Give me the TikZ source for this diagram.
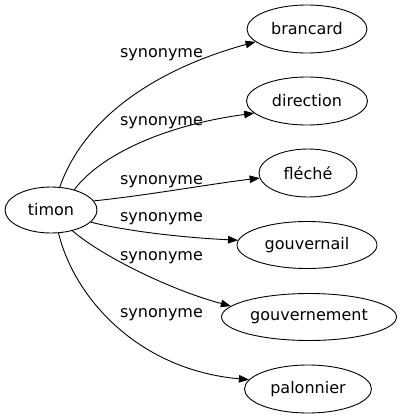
\documentclass[tikz,border=0pt]{standalone}
\usepackage{fontspec}
\setmainfont{DejaVu Sans}
\usetikzlibrary{shapes.geometric,arrows.meta}
\begin{document}
\begin{tikzpicture}[x=1bp,y=-1bp,
  every node/.style={font=\fontsize{16bp}{19bp}\selectfont},
  word/.style={ellipse,draw,line width=0.9bp,inner sep=0pt},
  lbl/.style={anchor=base,inner sep=0pt},
  syn/.style={draw,line width=0.9bp,-{Triangle[length=10bp,width=7.5bp]}}]
\useasboundingbox (0,0) rectangle (402,419);
\node[word,minimum width=92bp,minimum height=46bp] (timon) at (51,210) {timon};
\node[word,minimum width=120bp,minimum height=48bp] (brancard) at (307,29) {brancard};
\node[word,minimum width=121bp,minimum height=48bp] (direction) at (307,101) {direction};
\node[word,minimum width=98bp,minimum height=48bp] (fleche) at (308,173) {fléché};
\node[word,minimum width=140bp,minimum height=47bp] (gouvernail) at (307,245) {gouvernail};
\node[word,minimum width=175bp,minimum height=47bp] (gouvernement) at (309,317) {gouvernement};
\node[word,minimum width=127bp,minimum height=48bp] (palonnier) at (308,389) {palonnier};
\node[lbl] (l1) at (161.5,57) {synonyme};
\node[lbl] (l2) at (161.5,125) {synonyme};
\node[lbl] (l3) at (161.5,184) {synonyme};
\node[lbl] (l4) at (161.5,221) {synonyme};
\node[lbl] (l5) at (161.5,260) {synonyme};
\node[lbl] (l6) at (161.5,317) {synonyme};
\draw[syn] (timon.69) .. controls (85,115) and (160,68) .. (brancard.194);
\draw[syn] (timon.41) .. controls (100,155) and (165,125) .. (direction.193);
\draw[syn] (timon.12) .. controls (150,195) and (210,184) .. (fleche.186);
\draw[syn] (timon.-17) .. controls (130,232) and (190,238) .. (gouvernail.176);
\draw[syn] (timon.-44) .. controls (100,255) and (170,290) .. (gouvernement.172);
\draw[syn] (timon.-72) .. controls (75,300) and (140,370) .. (palonnier.171);
\end{tikzpicture}
\end{document}
